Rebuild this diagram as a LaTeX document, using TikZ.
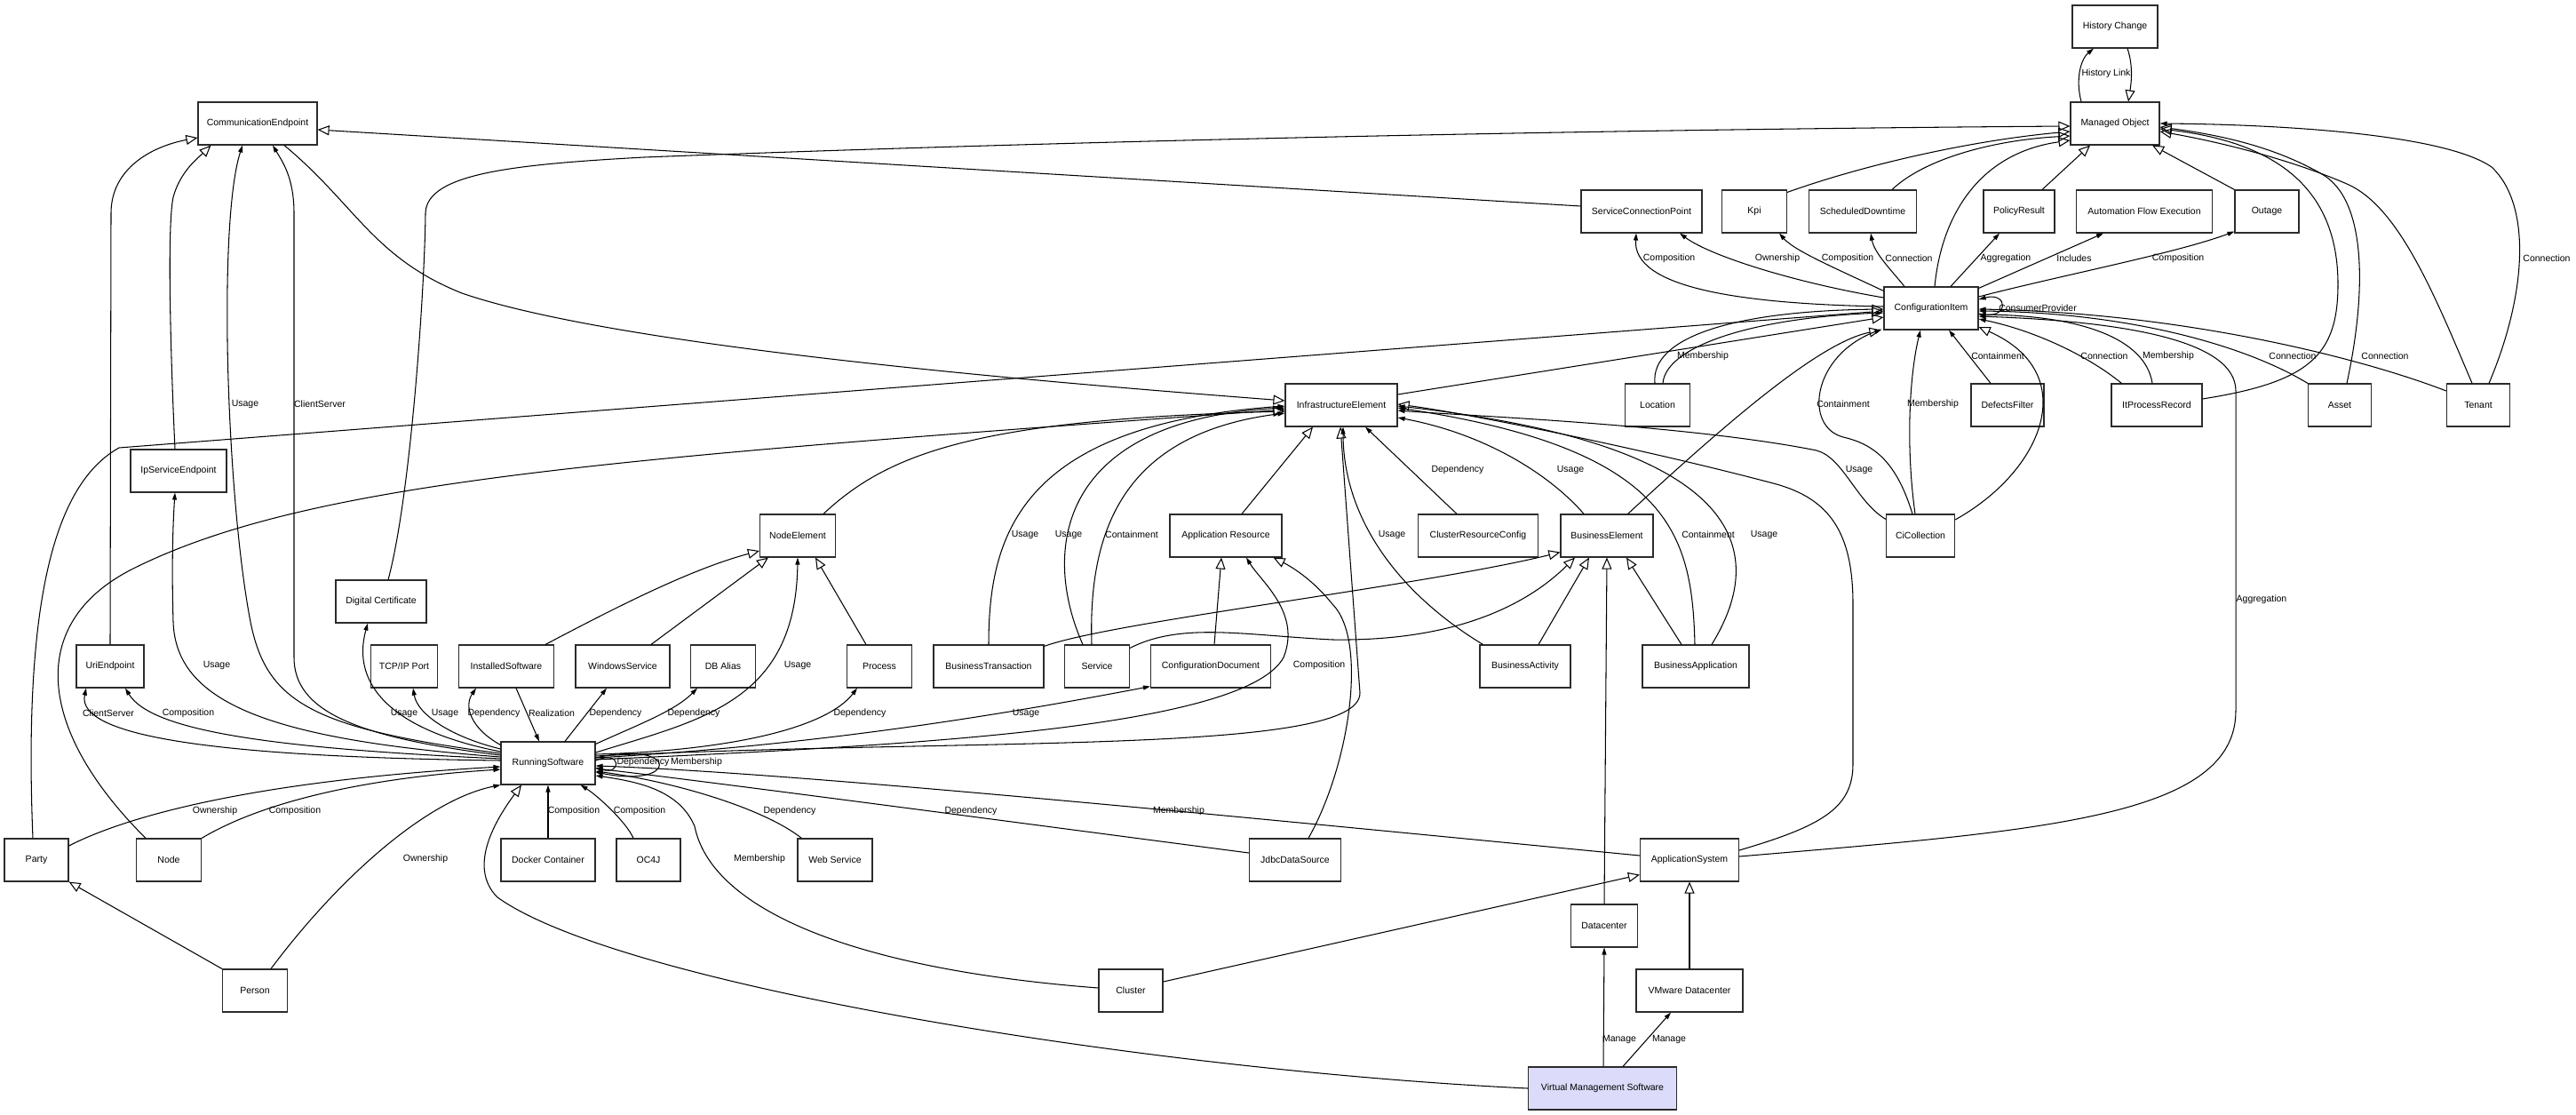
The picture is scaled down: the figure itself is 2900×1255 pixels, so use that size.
\documentclass[tikz,border=0pt]{standalone}
\usepackage{fontspec}
\setmainfont{Liberation Sans}
\usepackage{xcolor}
\usepackage{tikz}
\usetikzlibrary{calc,arrows.meta}
\definecolor{boxline}{HTML}{2B2B2B}
\definecolor{lineBlack}{HTML}{000000}
\definecolor{vmsFill}{HTML}{DCDCFA}
\tikzset{
  umlBox/.style={draw=boxline, line width=1.15pt, fill=white, minimum height=48pt, inner sep=0pt, font=\fontsize{10.5}{12}\selectfont},
  umlGen/.style={draw=lineBlack, line width=1.05pt, -{Triangle[open, length=13pt, width=11pt]}},
  umlAssoc/.style={draw=lineBlack, line width=1.05pt, -{Triangle[length=8pt, width=5pt]}},
  umlLabel/.style={text=lineBlack, font=\fontsize{10.5}{12}\selectfont, inner sep=0pt}
}

\begin{document}
\begin{tikzpicture}[x=1pt, y=-1pt]
  \useasboundingbox (0,0) rectangle (2900,1255);

  % classes, top to bottom
  \node[umlBox, minimum width=96pt] (histChange) at (2381,30) {History Change};
  \node[umlBox, minimum width=100pt] (managedObj) at (2381,139) {Managed Object};
  \node[umlBox, minimum width=134pt] (commEndpoint) at (290,139) {CommunicationEndpoint};

  \node[umlBox, minimum width=136pt] (serviceConnPoint) at (1848,238) {ServiceConnectionPoint};
  \node[umlBox, minimum width=73pt] (kpi) at (1975,238) {Kpi};
  \node[umlBox, minimum width=121pt] (schedDowntime) at (2097,238) {ScheduledDowntime};
  \node[umlBox, minimum width=80pt] (policyResult) at (2273,238) {PolicyResult};
  \node[umlBox, minimum width=153pt] (autoFlowExec) at (2414,238) {Automation Flow Execution};
  \node[umlBox, minimum width=72pt] (outage) at (2552,238) {Outage};

  \node[umlBox, minimum width=106pt] (configItem) at (2174,347) {ConfigurationItem};

  \node[umlBox, minimum width=126pt] (infraElement) at (1510,456) {InfrastructureElement};
  \node[umlBox, minimum width=73pt] (location) at (1866,456) {Location};
  \node[umlBox, minimum width=82pt] (defectsFilter) at (2260,456) {DefectsFilter};
  \node[umlBox, minimum width=102pt] (itProcessRecord) at (2428,456) {ItProcessRecord};
  \node[umlBox, minimum width=71pt] (asset) at (2634,456) {Asset};
  \node[umlBox, minimum width=71pt] (tenant) at (2790,456) {Tenant};

  \node[umlBox, minimum width=108pt] (ipServiceEndpoint) at (201,530) {IpServiceEndpoint};

  \node[umlBox, minimum width=85pt] (nodeElement) at (898,603) {NodeElement};
  \node[umlBox, minimum width=126pt] (appResource) at (1380,603) {Application Resource};
  \node[umlBox, minimum width=135pt] (clusterResConfig) at (1664,603) {ClusterResourceConfig};
  \node[umlBox, minimum width=104pt] (businessElement) at (1809,603) {BusinessElement};
  \node[umlBox, minimum width=77pt] (ciCollection) at (2162,603) {CiCollection};

  \node[umlBox, minimum width=102pt] (digitalCert) at (429,677) {Digital Certificate};

  \node[umlBox, minimum width=76pt] (uriEndpoint) at (124,750) {UriEndpoint};
  \node[umlBox, minimum width=75pt] (tcpIpPort) at (455,750) {TCP/IP Port};
  \node[umlBox, minimum width=107pt] (installedSw) at (570,750) {InstalledSoftware};
  \node[umlBox, minimum width=106pt] (windowsService) at (701,750) {WindowsService};
  \node[umlBox, minimum width=73pt] (dbAlias) at (814,750) {DB Alias};
  \node[umlBox, minimum width=73pt] (process) at (990,750) {Process};
  \node[umlBox, minimum width=124pt] (businessTrans) at (1113,750) {BusinessTransaction};
  \node[umlBox, minimum width=73pt] (service) at (1235,750) {Service};
  \node[umlBox, minimum width=135pt] (configDoc) at (1363,750) {ConfigurationDocument};
  \node[umlBox, minimum width=102pt] (businessActivity) at (1717,750) {BusinessActivity};
  \node[umlBox, minimum width=120pt] (businessApp) at (1909,750) {BusinessApplication};

  \node[umlBox, minimum width=106pt] (runningSw) at (617,859) {RunningSoftware};

  \node[umlBox, minimum width=72pt] (party) at (41,968) {Party};
  \node[umlBox, minimum width=73pt] (nodeBox) at (190,968) {Node};
  \node[umlBox, minimum width=106pt] (dockerContainer) at (617,968) {Docker Container};
  \node[umlBox, minimum width=72pt] (oc4j) at (730,968) {OC4J};
  \node[umlBox, minimum width=84pt] (webService) at (940,968) {Web Service};
  \node[umlBox, minimum width=103pt] (jdbcDataSource) at (1458,968) {JdbcDataSource};
  \node[umlBox, minimum width=111pt] (appSystem) at (1902,968) {ApplicationSystem};

  \node[umlBox, minimum width=75pt] (datacenter) at (1806,1042) {Datacenter};
  \node[umlBox, minimum width=73pt] (person) at (287,1115) {Person};
  \node[umlBox, minimum width=72pt] (cluster) at (1273,1115) {Cluster};
  \node[umlBox, minimum width=120pt] (vmwareDc) at (1902,1115) {VMware Datacenter};
  \node[umlBox, minimum width=167pt, fill=vmsFill] (virtMgmtSw) at (1804,1225) {Virtual Management Software};

  % Managed Object
  \draw[umlAssoc] ($(managedObj.north)+(-38,0)$) .. controls (2336,88) and (2343,66) .. ($(histChange.south)+(-24,0)$);
  \draw[umlGen] ($(histChange.south)+(14,0)$) .. controls (2402,75) and (2399,95) .. ($(managedObj.north)+(15,0)$);
  \draw[umlGen] ($(digitalCert.north)+(8,0)$) .. controls (462,560) and (478,330) .. (479,240) .. controls (480,195) and (580,185) .. (725,177) .. controls (1300,155) and (1900,145) .. ($(managedObj.west)+(0,3)$);
  \draw[umlGen] ($(kpi.north east)+(0,3)$) .. controls (2100,185) and (2220,158) .. ($(managedObj.west)+(0,9)$);
  \draw[umlGen] ($(schedDowntime.north)+(33,0)$) .. controls (2165,180) and (2240,158) .. ($(managedObj.west)+(0,14)$);
  \draw[umlGen] ($(configItem.north)+(4,0)$) .. controls (2186,240) and (2230,172) .. ($(managedObj.west)+(0,19)$);
  \draw[umlGen] ($(policyResult.north)+(26,0)$) -- ($(managedObj.south)+(-28,0)$);
  \draw[umlGen] (outage.north west) -- ($(managedObj.south)+(42,0)$);
  \draw[umlGen] ($(itProcessRecord.east)+(0,-7)$) .. controls (2600,430) and (2632,400) .. (2632,320) .. controls (2632,210) and (2560,160) .. ($(managedObj.east)+(0,6)$);
  \draw[umlGen] ($(asset.north)+(8,0)$) .. controls (2664,330) and (2665,225) .. (2614,196) .. controls (2560,165) and (2500,152) .. ($(managedObj.east)+(0,4)$);
  \draw[umlGen] ($(tenant.north)+(-7,0)$) .. controls (2740,330) and (2700,232) .. (2642,207) .. controls (2580,180) and (2500,160) .. ($(managedObj.east)+(0,9)$);
  \draw[umlAssoc] ($(tenant.north)+(12,0)$) .. controls (2845,330) and (2850,230) .. (2805,188) .. controls (2750,150) and (2560,140) .. (managedObj.east);
  \draw[umlGen] ($(serviceConnPoint.west)+(0,-6)$) -- ($(commEndpoint.east)+(0,7)$);

  % ConfigurationItem
  \draw[umlAssoc] ($(configItem.west)+(0,-2)$) .. controls (1950,342) and (1838,322) .. ($(serviceConnPoint.south)+(-6,0)$);
  \draw[umlAssoc] ($(configItem.west)+(0,-12)$) .. controls (2020,318) and (1925,288) .. ($(serviceConnPoint.south)+(43,0)$);
  \draw[umlAssoc] ($(configItem.north west)+(0,5)$) .. controls (2062,300) and (2020,282) .. ($(kpi.south)+(28,0)$);
  \draw[umlAssoc] ($(configItem.north)+(-30,0)$) .. controls (2130,305) and (2110,285) .. ($(schedDowntime.south)+(9,0)$);
  \draw[umlAssoc] ($(configItem.north)+(22,0)$) -- ($(policyResult.south)+(-22,0)$);
  \draw[umlAssoc] ($(configItem.north east)+(0,2)$) -- ($(autoFlowExec.south)+(-46,0)$);
  \draw[umlAssoc] ($(configItem.east)+(0,-13)$) .. controls (2320,310) and (2450,285) .. ($(outage.south west)+(0,-2)$);
  \draw[umlAssoc] ($(configItem.east)+(0,6)$) .. controls (2262,362) and (2262,328) .. ($(configItem.east)+(0,-10)$);
  \draw[umlAssoc] ($(itProcessRecord.north west)+(12,0)$) .. controls (2350,400) and (2290,372) .. ($(configItem.east)+(0,12)$);
  \draw[umlAssoc] ($(itProcessRecord.north)+(-5,0)$) .. controls (2415,380) and (2340,355) .. ($(configItem.east)+(0,7)$);
  \draw[umlAssoc] (asset.north west) .. controls (2530,390) and (2400,352) .. ($(configItem.east)+(0,3)$);
  \draw[umlAssoc] ($(tenant.west)+(0,-16)$) .. controls (2650,400) and (2450,352) .. ($(configItem.east)+(0,1)$);
  \draw[umlAssoc] ($(appSystem.east)+(0,-4)$) .. controls (2300,935) and (2517,920) .. (2517,800) -- (2517,440) .. controls (2517,385) and (2400,362) .. ($(configItem.east)+(0,9)$);
  \draw[umlGen] ($(ciCollection.east)+(0,-18)$) .. controls (2300,530) and (2345,420) .. ($(configItem.east)+(0,21)$);
  \draw[umlAssoc] ($(defectsFilter.north)+(-19,0)$) -- ($(configItem.south)+(20,0)$);
  \draw[umlAssoc] ($(ciCollection.north)+(-6,0)$) .. controls (2145,500) and (2150,420) .. ($(configItem.south)+(-12,0)$);
  \draw[umlAssoc] ($(ciCollection.north)+(-9,0)$) .. controls (2135,520) and (2110,500) .. (2075,492) .. controls (2030,480) and (2040,400) .. ($(configItem.south west)+(-2,-1)$);
  \draw[umlGen] ($(location.north)+(-3,0)$) .. controls (1858,380) and (1950,350) .. ($(configItem.west)+(0,1)$);
  \draw[umlAssoc] ($(location.north)+(6,0)$) .. controls (1875,392) and (1965,358) .. ($(configItem.west)+(0,5)$);
  \draw[umlGen] ($(infraElement.east)+(0,-12)$) -- ($(configItem.west)+(0,10)$);
  \draw[umlGen] ($(party.north)+(-4,0)$) .. controls (25,650) and (70,540) .. (134,504) -- ($(configItem.west)+(0,3)$);
  \draw[umlGen] ($(businessElement.north east)+(-29,0)$) .. controls (1950,470) and (2050,385) .. ($(configItem.south west)+(-3,0)$);

  % InfrastructureElement
  \draw[umlGen] ($(commEndpoint.south)+(30,0)$) .. controls (400,230) and (420,290) .. (520,330) .. controls (700,392) and (1200,432) .. ($(infraElement.west)+(0,-5)$);
  \draw[umlGen] ($(nodeBox.north)+(-26,0)$) .. controls (40,820) and (30,700) .. (150,640) .. controls (350,540) and (700,515) .. ($(infraElement.west)+(0,5)$);
  \draw[umlGen] ($(nodeElement.north)+(29,0)$) .. controls (1000,510) and (1100,472) .. ($(infraElement.west)+(0,7)$);
  \draw[umlAssoc] (businessTrans.north) .. controls (1113,600) and (1150,478) .. ($(infraElement.west)+(0,1)$);
  \draw[umlAssoc] ($(service.north)+(-16,0)$) .. controls (1172,620) and (1190,472) .. ($(infraElement.west)+(0,3)$);
  \draw[umlAssoc] ($(service.north)+(-6,0)$) .. controls (1225,600) and (1262,488) .. ($(infraElement.west)+(0,9)$);
  \draw[umlGen] ($(appResource.north)+(18,0)$) -- ($(infraElement.south)+(-32,0)$);
  \draw[umlAssoc] ($(clusterResConfig.north)+(-24,0)$) -- ($(infraElement.south)+(27,0)$);
  \draw[umlAssoc] ($(businessElement.north)+(-26,0)$) .. controls (1750,540) and (1680,490) .. ($(infraElement.east)+(0,14)$);
  \draw[umlAssoc] ($(businessApp.north)+(-1,0)$) .. controls (1905,600) and (1880,505) .. ($(infraElement.east)+(0,3)$);
  \draw[umlAssoc] ($(businessApp.north)+(18,0)$) .. controls (1992,620) and (1965,500) .. ($(infraElement.east)+(0,1)$);
  \draw[umlAssoc] ($(businessActivity.north west)+(4,0)$) .. controls (1570,665) and (1512,580) .. ($(infraElement.south)+(2,0)$);
  \draw[umlAssoc] ($(ciCollection.north west)+(0,6)$) .. controls (2090,565) and (2075,515) .. (2045,507) .. controls (1900,478) and (1650,468) .. ($(infraElement.east)+(0,6)$);
  \draw[umlGen] ($(appSystem.east)+(0,-11)$) .. controls (2050,930) and (2086,910) .. (2086,860) -- (2086,680) .. controls (2086,600) and (2060,562) .. (2000,545) .. controls (1850,505) and (1650,465) .. ($(infraElement.east)+(0,-1)$);
  \draw[umlGen] ($(runningSw.east)+(0,-8)$) .. controls (1100,830) and (1531,850) .. (1531,780) -- ($(infraElement.south)+(-1,0)$);

  % Application Resource and BusinessElement
  \draw[umlAssoc] ($(runningSw.east)+(0,-4)$) .. controls (1000,840) and (1400,822) .. (1445,740) .. controls (1465,690) and (1420,655) .. ($(appResource.south)+(23,0)$);
  \draw[umlGen] ($(jdbcDataSource.north)+(15,0)$) .. controls (1520,860) and (1540,720) .. (1500,680) .. controls (1480,655) and (1458,640) .. ($(appResource.south east)+(-10,0)$);
  \draw[umlGen] ($(configDoc.north)+(4,0)$) -- ($(appResource.south)+(-5,0)$);
  \draw[umlGen] ($(businessTrans.north east)+(0,2)$) .. controls (1250,700) and (1600,660) .. ($(businessElement.south west)+(0,-6)$);
  \draw[umlGen] ($(service.north east)+(0,4)$) .. controls (1330,700) and (1400,715) .. (1500,720) .. controls (1640,722) and (1720,680) .. ($(businessElement.south)+(-36,0)$);
  \draw[umlGen] ($(businessActivity.north)+(15,0)$) -- ($(businessElement.south)+(-20,0)$);
  \draw[umlGen] ($(businessApp.north)+(-16,0)$) -- ($(businessElement.south)+(22,0)$);
  \draw[umlGen] (datacenter.north) -- (businessElement.south);

  % NodeElement
  \draw[umlGen] ($(installedSw.north east)+(-10,0)$) .. controls (700,680) and (780,640) .. ($(nodeElement.west)+(0,17)$);
  \draw[umlGen] ($(windowsService.north)+(32,0)$) -- ($(nodeElement.south west)+(10,0)$);
  \draw[umlGen] ($(process.north)+(-15,0)$) -- ($(nodeElement.south)+(20,0)$);
  \draw[umlAssoc] ($(runningSw.east)+(0,-12)$) .. controls (790,810) and (896,790) .. (nodeElement.south);

  % RunningSoftware
  \draw[umlAssoc] ($(runningSw.north east)+(0,3)$) .. controls (720,815) and (760,800) .. ($(dbAlias.south)+(-29,0)$);
  \draw[umlAssoc] ($(runningSw.east)+(0,-10)$) .. controls (820,845) and (930,820) .. ($(process.south)+(-25,0)$);
  \draw[umlAssoc] ($(runningSw.east)+(0,-6)$) .. controls (900,840) and (1100,810) .. ($(configDoc.south west)+(0,-2)$);
  \draw[umlAssoc] ($(runningSw.north)+(19,0)$) -- ($(windowsService.south)+(-18,0)$);
  \draw[umlAssoc] ($(installedSw.south)+(11,0)$) -- ($(runningSw.north)+(-10,0)$);
  \draw[umlAssoc] ($(runningSw.north west)+(0,4)$) .. controls (530,820) and (522,795) .. ($(installedSw.south)+(-34,0)$);
  \draw[umlAssoc] ($(runningSw.west)+(0,-16)$) .. controls (510,830) and (470,805) .. ($(tcpIpPort.south)+(10,0)$);
  \draw[umlAssoc] ($(runningSw.west)+(0,-13)$) .. controls (440,822) and (395,770) .. ($(digitalCert.south)+(-15,0)$);
  \draw[umlAssoc] ($(runningSw.west)+(0,-11)$) .. controls (350,820) and (300,790) .. (282,700) .. controls (255,560) and (245,250) .. ($(commEndpoint.south)+(-17,0)$);
  \draw[umlAssoc] ($(runningSw.west)+(0,-9)$) .. controls (400,830) and (331,800) .. (331,740) -- (331,240) .. controls (331,200) and (318,182) .. ($(commEndpoint.south)+(17,0)$);
  \draw[umlAssoc] ($(runningSw.west)+(0,-7)$) .. controls (300,832) and (198,790) .. (195,700) .. controls (193,630) and (195,585) .. ($(ipServiceEndpoint.south)+(-4,0)$);
  \draw[umlAssoc] ($(runningSw.west)+(0,-5)$) .. controls (300,842) and (170,822) .. ($(uriEndpoint.south)+(17,0)$);
  \draw[umlAssoc] ($(runningSw.west)+(0,-3)$) .. controls (250,852) and (85,830) .. ($(uriEndpoint.south)+(-27,0)$);
  \draw[umlGen] (uriEndpoint.north) -- (125,240) .. controls (125,190) and (170,165) .. ($(commEndpoint.west)+(0,16)$);
  \draw[umlGen] ($(ipServiceEndpoint.north)+(-4,0)$) .. controls (192,400) and (188,255) .. (195,222) .. controls (203,192) and (225,176) .. ($(commEndpoint.south west)+(15,0)$);
  \draw[umlAssoc] ($(party.east)+(0,-16)$) .. controls (150,915) and (300,878) .. ($(runningSw.west)+(0,4)$);
  \draw[umlAssoc] (nodeBox.north east) .. controls (300,900) and (420,875) .. ($(runningSw.west)+(0,7)$);
  \draw[umlAssoc] ($(person.north)+(18,0)$) .. controls (380,990) and (480,900) .. (runningSw.south west);
  \draw[umlGen] (person.north west) -- (party.south east);
  \draw[umlAssoc] (dockerContainer.north) -- (runningSw.south);
  \draw[umlAssoc] ($(oc4j.north)+(-17,0)$) .. controls (705,925) and (672,895) .. ($(runningSw.south east)+(-17,0)$);
  \draw[umlAssoc] ($(webService.north west)+(5,0)$) .. controls (860,910) and (760,880) .. ($(runningSw.east)+(0,9)$);
  \draw[umlAssoc] ($(jdbcDataSource.west)+(0,-8)$) .. controls (1100,920) and (800,880) .. ($(runningSw.east)+(0,6)$);
  \draw[umlAssoc] ($(appSystem.west)+(0,-5)$) .. controls (1400,920) and (900,870) .. ($(runningSw.east)+(0,3)$);
  \draw[umlAssoc] ($(cluster.west)+(0,-3)$) .. controls (950,1090) and (800,1020) .. (782,930) .. controls (765,890) and (720,880) .. ($(runningSw.east)+(0,14)$);
  \draw[umlAssoc] ($(runningSw.east)+(0,-3)$) .. controls (700,843) and (700,873) .. ($(runningSw.east)+(0,5)$);
  \draw[umlAssoc] ($(runningSw.east)+(0,-6)$) .. controls (765,832) and (765,888) .. ($(runningSw.east)+(0,10)$);
  \draw[umlGen] (virtMgmtSw.west) .. controls (1300,1205) and (700,1110) .. (560,1010) .. controls (525,975) and (560,920) .. ($(runningSw.south)+(-30,0)$);

  % bottom right
  \draw[umlAssoc] ($(virtMgmtSw.north)+(1,0)$) -- (datacenter.south);
  \draw[umlAssoc] ($(virtMgmtSw.north)+(23,0)$) -- ($(vmwareDc.south)+(-21,0)$);
  \draw[umlGen] (vmwareDc.north) -- (appSystem.south);
  \draw[umlGen] ($(cluster.east)+(0,-10)$) -- ($(appSystem.south west)+(0,-8)$);

  % relation names
  \node[umlLabel] (lHistLink) at (2371,83) {History Link};
  \node[umlLabel] (lScpComp) at (1879,291) {Composition};
  \node[umlLabel] (lScpOwn) at (2001,291) {Ownership};
  \node[umlLabel] (lKpiComp) at (2080,291) {Composition};
  \node[umlLabel] (lSdConn) at (2149,291) {Connection};
  \node[umlLabel] (lPrAggr) at (2258,291) {Aggregation};
  \node[umlLabel] (lAfeIncl) at (2335,291) {Includes};
  \node[umlLabel] (lOutComp) at (2452,291) {Composition};
  \node[umlLabel] (lTenMo) at (2867,291) {Connection};
  \node[umlLabel] (lCiSelf) at (2294,347) {ConsumerProvider};
  \node[umlLabel] (lLocMem) at (1917,401) {Membership};
  \node[umlLabel] (lDfCont) at (2249,401) {Containment};
  \node[umlLabel] (lIprConn) at (2369,401) {Connection};
  \node[umlLabel] (lIprMem) at (2441,401) {Membership};
  \node[umlLabel] (lAssetConn) at (2581,401) {Connection};
  \node[umlLabel] (lTenConn) at (2685,401) {Connection};
  \node[umlLabel] (lCcCont) at (2075,455) {Containment};
  \node[umlLabel] (lCcMem) at (2176,455) {Membership};
  \node[umlLabel] (lCeUsage) at (276,455) {Usage};
  \node[umlLabel] (lCeClient) at (360,455) {ClientServer};
  \node[umlLabel] (lCrcDep) at (1641,529) {Dependency};
  \node[umlLabel] (lBeUsage) at (1768,529) {Usage};
  \node[umlLabel] (lCcUsage) at (2093,529) {Usage};
  \node[umlLabel] (lBtUsage) at (1154,602) {Usage};
  \node[umlLabel] (lSvcUsage) at (1203,602) {Usage};
  \node[umlLabel] (lSvcCont) at (1274,602) {Containment};
  \node[umlLabel] (lBaUsage) at (1567,602) {Usage};
  \node[umlLabel] (lBappCont) at (1923,602) {Containment};
  \node[umlLabel] (lBappUsage) at (1986,602) {Usage};
  \node[umlLabel] (lAsAggr) at (2546,675) {Aggregation};
  \node[umlLabel] (lIpUsage) at (244,749) {Usage};
  \node[umlLabel] (lNeUsage) at (898,749) {Usage};
  \node[umlLabel] (lArComp) at (1485,749) {Composition};
  \node[umlLabel] (lUeClient) at (122,803) {ClientServer};
  \node[umlLabel] (lUeComp) at (212,803) {Composition};
  \node[umlLabel] (lDcUsage) at (455,803) {Usage};
  \node[umlLabel] (lTcpUsage) at (501,803) {Usage};
  \node[umlLabel] (lIsDep) at (556,803) {Dependency};
  \node[umlLabel] (lIsReal) at (621,803) {Realization};
  \node[umlLabel] (lWsDep) at (693,803) {Dependency};
  \node[umlLabel] (lDbDep) at (781,803) {Dependency};
  \node[umlLabel] (lProcDep) at (968,803) {Dependency};
  \node[umlLabel] (lCdUsage) at (1155,803) {Usage};
  \node[umlLabel] (lRsDep) at (724,858) {Dependency};
  \node[umlLabel] (lRsMem) at (784,858) {Membership};
  \node[umlLabel] (lPartyOwn) at (242,913) {Ownership};
  \node[umlLabel] (lNodeComp) at (332,913) {Composition};
  \node[umlLabel] (lDockComp) at (646,913) {Composition};
  \node[umlLabel] (lOcComp) at (720,913) {Composition};
  \node[umlLabel] (lWebDep) at (889,913) {Dependency};
  \node[umlLabel] (lJdbcDep) at (1093,913) {Dependency};
  \node[umlLabel] (lAsMem) at (1327,913) {Membership};
  \node[umlLabel] (lPersOwn) at (479,967) {Ownership};
  \node[umlLabel] (lClMem) at (855,967) {Membership};
  \node[umlLabel] (lDcManage) at (1823,1170) {Manage};
  \node[umlLabel] (lVmManage) at (1879,1170) {Manage};
\end{tikzpicture}
\end{document}
